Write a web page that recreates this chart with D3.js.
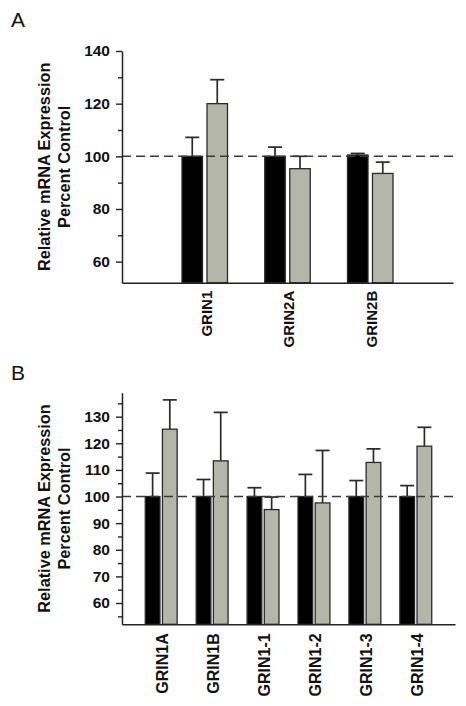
<!DOCTYPE html>
<html>
<head>
<meta charset="utf-8">
<script src="https://cdn.jsdelivr.net/npm/d3@7/dist/d3.min.js"></script>
<style>
  html, body { margin: 0; padding: 0; background: #fff; }
  svg { display: block; }
  text { font-family: "Liberation Sans", Arial, sans-serif; fill: #111; }
</style>
</head>
<body>
<svg id="chart" width="466" height="706"></svg>
<script>
// ---------- DATA ----------
// Panel A
const catsA = ["GRIN1", "GRIN2A", "GRIN2B"];
const ctrlA = [100, 100, 100.5];
const ctrlErrA = [7.2, 3.5, 0.6];
const trtA = [120, 95.3, 93.5];
const trtErrA = [9.1, 4.7, 4.3];
const majorTicksA = [60, 80, 100, 120, 140];
const minorTicksA = [70, 90, 110, 130];

// Panel B
const catsB = ["GRIN1A", "GRIN1B", "GRIN1-1", "GRIN1-2", "GRIN1-3", "GRIN1-4"];
const ctrlB = [100, 100, 100, 100, 100, 100];
const ctrlErrB = [8.8, 6.4, 3.3, 8.3, 6.0, 4.1];
const trtB = [125.3, 113.4, 95.1, 97.6, 112.8, 118.9];
const trtErrB = [11.0, 18.2, 4.7, 19.7, 5.1, 7.1];
const majorTicksB = [60, 70, 80, 90, 100, 110, 120, 130];
const minorTicksB = [55, 65, 75, 85, 95, 105, 115, 125, 135];

const yTitle = ["Relative mRNA Expression", "Percent Control"];
const seriesKeys = ["ctrl", "trt"];
const seriesColors = { ctrl: "#000000", trt: "#b5b6aa" };

// ---------- DRAW ----------
const svg = d3.select("#chart");

function panel(cfg) {
  const g = svg.append("g");
  const y = d3.scaleLinear().domain(cfg.yDomain).range([cfg.bottom, cfg.top]);
  const x0 = d3.scalePoint().domain(cfg.cats).range([cfg.left, cfg.right]).padding(cfg.pad);
  const x1 = d3.scaleBand().domain(seriesKeys)
    .range([-cfg.groupW / 2, cfg.groupW / 2]).paddingInner(cfg.inner).paddingOuter(0);

  const rows = cfg.cats.map((c, i) => ({
    cat: c,
    vals: [
      { key: "ctrl", v: cfg.ctrl[i], e: cfg.ctrlErr[i] },
      { key: "trt", v: cfg.trt[i], e: cfg.trtErr[i] }
    ]
  }));

  const grp = g.selectAll("g.grp").data(rows).join("g")
    .attr("transform", d => `translate(${x0(d.cat)},0)`);

  grp.selectAll("line.err").data(d => d.vals).join("line")
    .attr("x1", d => x1(d.key) + x1.bandwidth() / 2)
    .attr("x2", d => x1(d.key) + x1.bandwidth() / 2)
    .attr("y1", d => y(d.v))
    .attr("y2", d => y(d.v + d.e))
    .attr("stroke", "#2a2a2a").attr("stroke-width", 1.7);
  grp.selectAll("line.cap").data(d => d.vals).join("line")
    .attr("x1", d => x1(d.key) + x1.bandwidth() / 2 - cfg.cap / 2)
    .attr("x2", d => x1(d.key) + x1.bandwidth() / 2 + cfg.cap / 2)
    .attr("y1", d => y(d.v + d.e))
    .attr("y2", d => y(d.v + d.e))
    .attr("stroke", "#2a2a2a").attr("stroke-width", 1.7);

  grp.selectAll("rect").data(d => d.vals).join("rect")
    .attr("x", d => x1(d.key))
    .attr("width", x1.bandwidth())
    .attr("y", d => y(d.v))
    .attr("height", d => cfg.bottom - y(d.v))
    .attr("fill", d => seriesColors[d.key])
    .attr("stroke", "#2a2a2a").attr("stroke-width", 1.3);

  g.append("line")
    .attr("x1", cfg.left).attr("x2", cfg.right)
    .attr("y1", y(100)).attr("y2", y(100))
    .attr("stroke", "#3a3a3a").attr("stroke-width", 1.6)
    .attr("stroke-dasharray", "9,5");

  const axMaj = g.append("g").attr("transform", `translate(${cfg.left},0)`)
    .call(d3.axisLeft(y).tickValues(cfg.major).tickSize(6).tickSizeOuter(0).tickPadding(6)
      .tickFormat(d3.format("d")));
  axMaj.select(".domain").attr("stroke", "#222").attr("stroke-width", 1.5);
  axMaj.selectAll(".tick line").attr("stroke", "#222").attr("stroke-width", 1.4);
  axMaj.selectAll(".tick text")
    .style("font-family", "'Liberation Sans', Arial, sans-serif")
    .style("font-size", "15.5px").style("font-weight", "bold").attr("fill", "#111");
  const axMin = g.append("g").attr("transform", `translate(${cfg.left},0)`)
    .call(d3.axisLeft(y).tickValues(cfg.minor).tickSize(4).tickSizeOuter(0).tickFormat(""));
  axMin.select(".domain").remove();
  axMin.selectAll(".tick line").attr("stroke", "#222").attr("stroke-width", 1.4);

  const axX = g.append("g").attr("transform", `translate(0,${cfg.bottom})`)
    .call(d3.axisBottom(x0).tickSize(0).tickSizeOuter(0).tickPadding(0).tickFormat(""));
  axX.select(".domain").attr("stroke", "#222").attr("stroke-width", 1.5);
  axX.selectAll(".tick text").remove();

  g.selectAll("text.cat").data(cfg.cats).join("text")
    .attr("class", "cat")
    .attr("transform", d => `translate(${x0(d) + 1.5},${cfg.bottom + cfg.labGap}) rotate(-90)`)
    .attr("text-anchor", "end")
    .attr("dy", "0.36em")
    .style("font-size", cfg.catSize + "px").style("font-weight", "bold")
    .text(d => d);

  const yc = (cfg.top + cfg.bottom) / 2;
  yTitle.forEach((t, i) => {
    g.append("text")
      .attr("transform", `translate(${50 + i * 20},${yc}) rotate(-90)`)
      .attr("text-anchor", "middle")
      .style("font-size", "16.3px").style("font-weight", "bold")
      .text(t);
  });

  g.append("text").attr("x", 11).attr("y", cfg.letterY)
    .style("font-size", "21px").text(cfg.letter);
}

panel({
  letter: "A", letterY: 27,
  cats: catsA, ctrl: ctrlA, ctrlErr: ctrlErrA, trt: trtA, trtErr: trtErrA,
  major: majorTicksA, minor: minorTicksA,
  yDomain: [52, 140], top: 51, bottom: 282.7,
  left: 122, right: 453, pad: 1, groupW: 45.5, inner: 0.18, cap: 14,
  catSize: 15, labGap: 8
});

panel({
  letter: "B", letterY: 380,
  cats: catsB, ctrl: ctrlB, ctrlErr: ctrlErrB, trt: trtB, trtErr: trtErrB,
  major: majorTicksB, minor: minorTicksB,
  yDomain: [52, 139], top: 392.7, bottom: 624.3,
  left: 122, right: 455, pad: 0.77, groupW: 31.9, inner: 0.145, cap: 14,
  catSize: 16, labGap: 9
});
</script>
</body>
</html>
